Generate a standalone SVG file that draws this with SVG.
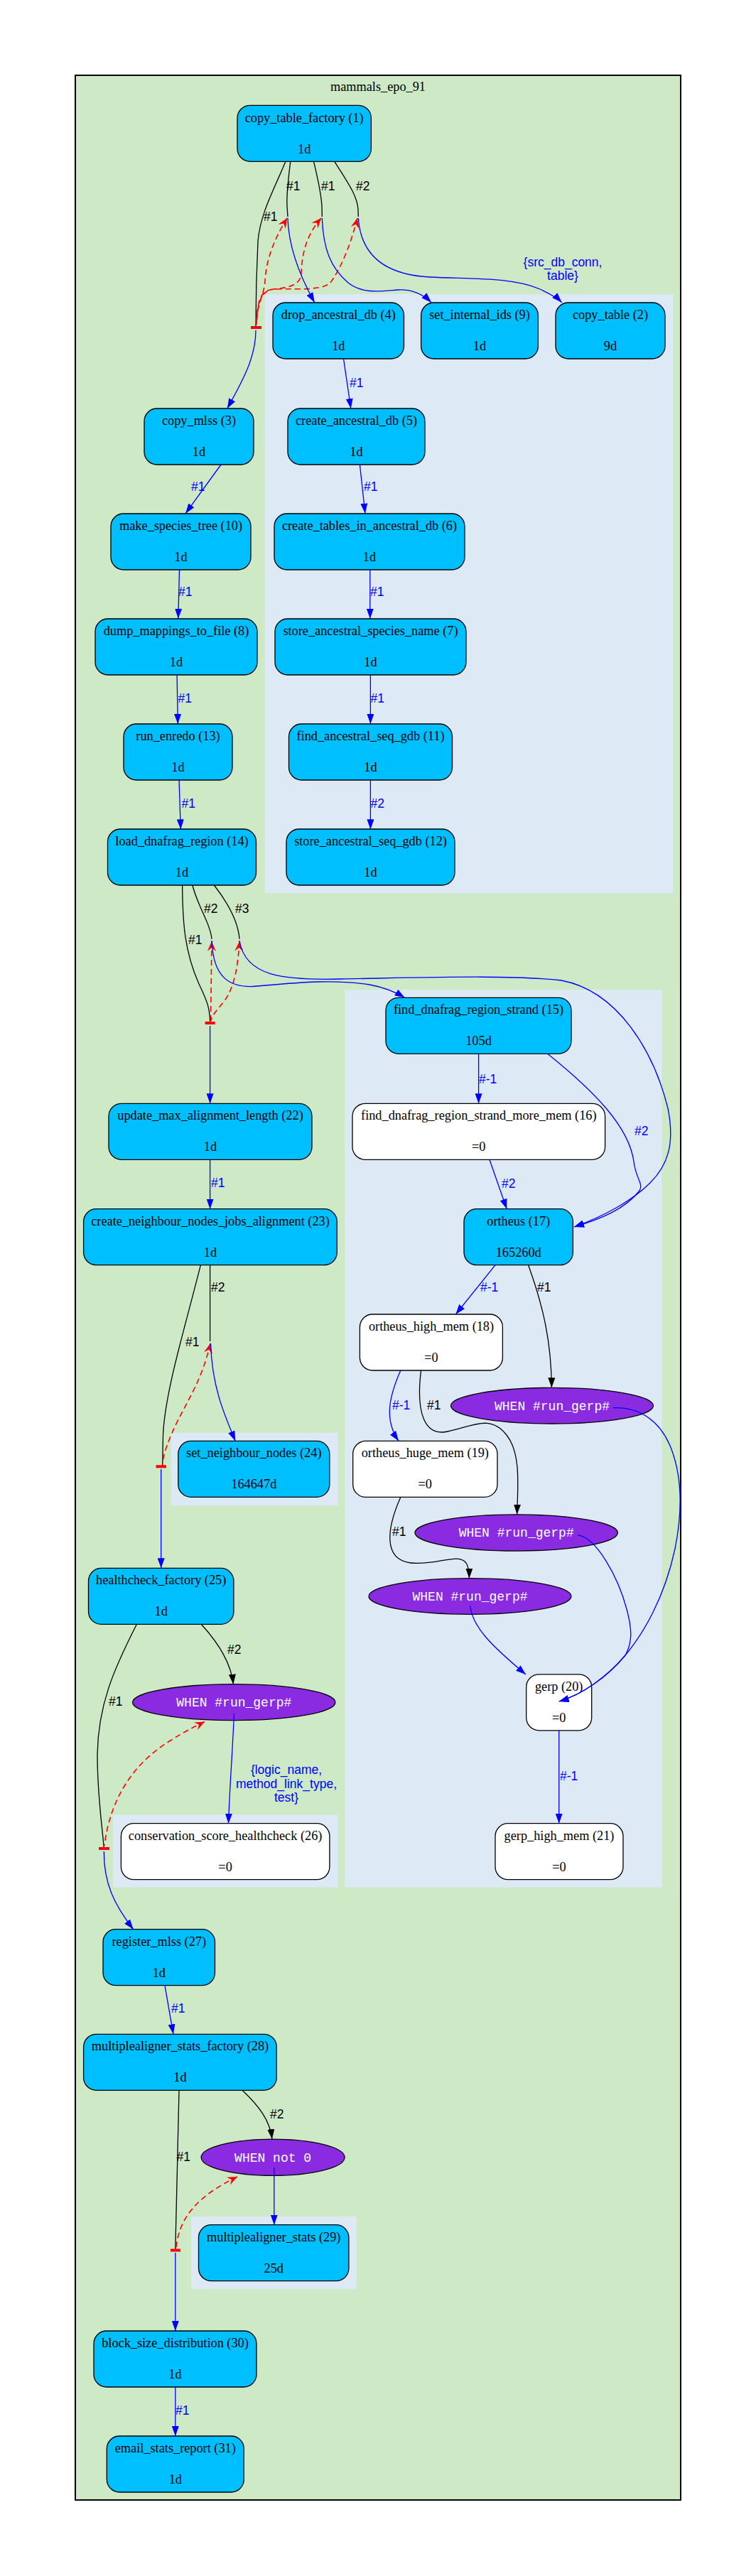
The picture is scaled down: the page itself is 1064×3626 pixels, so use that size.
<svg xmlns="http://www.w3.org/2000/svg" width="1064" height="3626" viewBox="0 0 1064 3626">
<defs>
<style>
.outer{fill:#cde9c6;stroke:#000;stroke-width:2}
.cl{fill:#dde9f5;stroke:none}
.job rect{fill:#00bfff;stroke:#000;stroke-width:1.3}
.job.empty rect{fill:#fff}
.nt{font-family:"Liberation Serif","Times New Roman",serif;font-size:18.3px;text-anchor:middle;fill:#000}
.cond ellipse{fill:#8a2be2;stroke:#000;stroke-width:1.3}
.ct{font-family:"Liberation Mono","Courier New",monospace;font-size:18px;text-anchor:middle;fill:#fff}
.e{fill:none;stroke-width:1.3}
.eb{stroke:#0000ff;marker-end:url(#ab)}
.ek{stroke:#000}
.eka{stroke:#000;marker-end:url(#ak)}
.er{stroke:#ff0000;stroke-width:1.6;stroke-dasharray:8,5;marker-start:url(#av)}
.tee{fill:#ff0000}
.lb{font-family:"Liberation Sans",Arial,sans-serif;font-size:17.5px;fill:#0000ff}
.lk{font-family:"Liberation Sans",Arial,sans-serif;font-size:17.5px;fill:#000}
.mid{text-anchor:middle}
</style>
<marker id="ab" viewBox="0 0 14 10" refX="14" refY="5" markerWidth="14" markerHeight="10" markerUnits="userSpaceOnUse" orient="auto"><path d="M0,0 L14,5 L0,10 z" fill="#0000ff"/></marker>
<marker id="ak" viewBox="0 0 14 10" refX="14" refY="5" markerWidth="14" markerHeight="10" markerUnits="userSpaceOnUse" orient="auto"><path d="M0,0 L14,5 L0,10 z" fill="#000"/></marker>
<marker id="av" viewBox="0 0 14 12" refX="14" refY="6" markerWidth="14" markerHeight="12" markerUnits="userSpaceOnUse" orient="auto-start-reverse"><path d="M0,0 L14,6 L0,12 L5,6 z" fill="#ff0000"/></marker>
</defs>

<g id="clusters">
<rect class="outer" x="106" y="106" width="852" height="3413"/>
<text class="nt" x="532" y="127.5">mammals_epo_91</text>
<rect class="cl" x="372.6" y="414" width="575" height="843.3"/>
<rect class="cl" x="485.2" y="1393.3" width="446.3" height="1263.4"/>
<rect class="cl" x="240.5" y="2016.7" width="235" height="102.6"/>
<rect class="cl" x="158.9" y="2554.3" width="316.5" height="102.4"/>
<rect class="cl" x="269.2" y="3120" width="232.6" height="102.3"/>
</g>

<g id="n1" class="job"><rect x="334" y="148.3" width="188.4" height="79" rx="18"/><text class="nt" x="428.2" y="171.5">copy_table_factory (1)</text><text class="nt" x="428.2" y="215.5">1d</text></g>
<g id="n4" class="job"><rect x="384" y="426" width="184.5" height="79" rx="18"/><text class="nt" x="476.3" y="449">drop_ancestral_db (4)</text><text class="nt" x="476.3" y="493">1d</text></g>
<g id="n9" class="job"><rect x="592.6" y="426" width="164.8" height="79" rx="18"/><text class="nt" x="675" y="449">set_internal_ids (9)</text><text class="nt" x="675" y="493">1d</text></g>
<g id="n2" class="job"><rect x="782" y="426" width="154" height="79" rx="18"/><text class="nt" x="859" y="449">copy_table (2)</text><text class="nt" x="859" y="493">9d</text></g>
<g id="n3" class="job"><rect x="203" y="575" width="154" height="79" rx="18"/><text class="nt" x="280" y="598">copy_mlss (3)</text><text class="nt" x="280" y="642">1d</text></g>
<g id="n5" class="job"><rect x="405" y="575" width="193" height="79" rx="18"/><text class="nt" x="501.5" y="598">create_ancestral_db (5)</text><text class="nt" x="501.5" y="642">1d</text></g>
<g id="n10" class="job"><rect x="156" y="723" width="197" height="79" rx="18"/><text class="nt" x="254.5" y="746">make_species_tree (10)</text><text class="nt" x="254.5" y="790">1d</text></g>
<g id="n6" class="job"><rect x="386" y="723" width="268" height="79" rx="18"/><text class="nt" x="520" y="746">create_tables_in_ancestral_db (6)</text><text class="nt" x="520" y="790">1d</text></g>
<g id="n8" class="job"><rect x="134" y="871" width="228" height="79" rx="18"/><text class="nt" x="248" y="894">dump_mappings_to_file (8)</text><text class="nt" x="248" y="938">1d</text></g>
<g id="n7" class="job"><rect x="387" y="871" width="269" height="79" rx="18"/><text class="nt" x="521.5" y="894">store_ancestral_species_name (7)</text><text class="nt" x="521.5" y="938">1d</text></g>
<g id="n13" class="job"><rect x="174" y="1019" width="153" height="79" rx="18"/><text class="nt" x="250.5" y="1042">run_enredo (13)</text><text class="nt" x="250.5" y="1086">1d</text></g>
<g id="n11" class="job"><rect x="406.5" y="1019" width="230" height="79" rx="18"/><text class="nt" x="521.5" y="1042">find_ancestral_seq_gdb (11)</text><text class="nt" x="521.5" y="1086">1d</text></g>
<g id="n14" class="job"><rect x="151.5" y="1167" width="209" height="79" rx="18"/><text class="nt" x="256" y="1190">load_dnafrag_region (14)</text><text class="nt" x="256" y="1234">1d</text></g>
<g id="n12" class="job"><rect x="403" y="1167" width="237" height="79" rx="18"/><text class="nt" x="521.5" y="1190">store_ancestral_seq_gdb (12)</text><text class="nt" x="521.5" y="1234">1d</text></g>
<g id="n15" class="job"><rect x="543" y="1404.3" width="261" height="79" rx="18"/><text class="nt" x="673.5" y="1427.3">find_dnafrag_region_strand (15)</text><text class="nt" x="673.5" y="1471.3">105d</text></g>
<g id="n22" class="job"><rect x="153" y="1553.3" width="286" height="79" rx="18"/><text class="nt" x="296" y="1576.3">update_max_alignment_length (22)</text><text class="nt" x="296" y="1620.3">1d</text></g>
<g id="n16" class="job empty"><rect x="496" y="1553.3" width="355.6" height="79" rx="18"/><text class="nt" x="673.8" y="1576.3">find_dnafrag_region_strand_more_mem (16)</text><text class="nt" x="673.8" y="1620.3">=0</text></g>
<g id="n23" class="job"><rect x="117.6" y="1701.7" width="356.7" height="79" rx="18"/><text class="nt" x="296" y="1724.7">create_neighbour_nodes_jobs_alignment (23)</text><text class="nt" x="296" y="1768.7">1d</text></g>
<g id="n17" class="job"><rect x="653" y="1701.7" width="153.4" height="79" rx="18"/><text class="nt" x="729.7" y="1724.7">ortheus (17)</text><text class="nt" x="729.7" y="1768.7">165260d</text></g>
<g id="n18" class="job empty"><rect x="506.4" y="1850" width="201" height="79" rx="18"/><text class="nt" x="607" y="1873">ortheus_high_mem (18)</text><text class="nt" x="607" y="1917">=0</text></g>
<g id="w1" class="cond"><ellipse cx="777" cy="1978.7" rx="142.5" ry="25.3"/><text class="ct" x="777" y="1984.5">WHEN #run_gerp#</text></g>
<g id="n19" class="job empty"><rect x="496.7" y="2028.4" width="203.3" height="79" rx="18"/><text class="nt" x="598.3" y="2051.4">ortheus_huge_mem (19)</text><text class="nt" x="598.3" y="2095.4">=0</text></g>
<g id="n24" class="job"><rect x="250.8" y="2028.4" width="213" height="79" rx="18"/><text class="nt" x="357.3" y="2051.4">set_neighbour_nodes (24)</text><text class="nt" x="357.3" y="2095.4">164647d</text></g>
<g id="w2" class="cond"><ellipse cx="726.7" cy="2157.5" rx="142.7" ry="25.6"/><text class="ct" x="726.7" y="2163.3">WHEN #run_gerp#</text></g>
<g id="n25" class="job"><rect x="124.5" y="2207.4" width="204.4" height="79" rx="18"/><text class="nt" x="226.7" y="2230.4">healthcheck_factory (25)</text><text class="nt" x="226.7" y="2274.4">1d</text></g>
<g id="w3" class="cond"><ellipse cx="661.5" cy="2247" rx="142.5" ry="25.3"/><text class="ct" x="661.5" y="2252.8">WHEN #run_gerp#</text></g>
<g id="n20" class="job empty"><rect x="740.7" y="2356.8" width="92" height="79" rx="18"/><text class="nt" x="786.7" y="2379.8">gerp (20)</text><text class="nt" x="786.7" y="2423.8">=0</text></g>
<g id="w4" class="cond"><ellipse cx="329.3" cy="2396.2" rx="142.7" ry="25.5"/><text class="ct" x="329.3" y="2402">WHEN #run_gerp#</text></g>
<g id="n26" class="job empty"><rect x="170.4" y="2566.7" width="293.5" height="79" rx="18"/><text class="nt" x="317.1" y="2589.7">conservation_score_healthcheck (26)</text><text class="nt" x="317.1" y="2633.7">=0</text></g>
<g id="n21" class="job empty"><rect x="697" y="2566.7" width="180" height="79" rx="18"/><text class="nt" x="787" y="2589.7">gerp_high_mem (21)</text><text class="nt" x="787" y="2633.7">=0</text></g>
<g id="n27" class="job"><rect x="145" y="2715.7" width="157.5" height="79" rx="18"/><text class="nt" x="223.8" y="2738.7">register_mlss (27)</text><text class="nt" x="223.8" y="2782.7">1d</text></g>
<g id="n28" class="job"><rect x="117.6" y="2863.3" width="271.7" height="79" rx="18"/><text class="nt" x="253.5" y="2886.3">multiplealigner_stats_factory (28)</text><text class="nt" x="253.5" y="2930.3">1d</text></g>
<g id="w5" class="cond"><ellipse cx="384.1" cy="3036.7" rx="101" ry="25.6"/><text class="ct" x="384.1" y="3042.5">WHEN not 0</text></g>
<g id="n29" class="job"><rect x="279.5" y="3131.7" width="211.4" height="79" rx="18"/><text class="nt" x="385.2" y="3154.7">multiplealigner_stats (29)</text><text class="nt" x="385.2" y="3198.7">25d</text></g>
<g id="n30" class="job"><rect x="132" y="3281" width="229" height="79" rx="18"/><text class="nt" x="246.5" y="3304">block_size_distribution (30)</text><text class="nt" x="246.5" y="3348">1d</text></g>
<g id="n31" class="job"><rect x="150.3" y="3429" width="193" height="79" rx="18"/><text class="nt" x="246.8" y="3452">email_stats_report (31)</text><text class="nt" x="246.8" y="3496">1d</text></g>

<g id="connectors">
<!-- fan from copy_table_factory -->
<path class="e ek" d="M401.9,227.3 C388,262 366,300 363,340 C361,380 360,430 360,461"/>
<path class="e ek" d="M408.8,227.3 C406,250 403,272 404,290 L405,305"/>
<path class="e ek" d="M441.5,227.3 C447,250 452,272 453,290 L453.3,305"/>
<path class="e ek" d="M470.8,227.3 C488,255 503,275 504,295 L504.3,305"/>
<path class="e er" d="M404,307 C390,330 375,360 373,395 C372,415 362,425 361,457"/>
<path class="e er" d="M452,307 C432,330 425,355 424,385 C423,402 405,405 385,407 C368,409 362,425 361,457"/>
<path class="e er" d="M503,307 C492,350 478,380 465,398 C450,412 400,404 380,408 C366,411 362,425 361,457"/>
<rect class="tee" x="353" y="459" width="15" height="4"/>
<path class="e eb" d="M360,465 C360,500 345,530 319.8,575"/>
<path class="e eb" d="M405,307 C406,345 420,385 442.7,425.7"/>
<path class="e eb" d="M453.3,307 C455,350 465,377 490,398 C510,414 535,410 560,408 C580,407 595,414 607,425.7"/>
<path class="e eb" d="M504.3,307 C508,362 545,387 605,390 C665,393 720,390 760,407 C775,414 784,419 790.7,425.7"/>
<!-- chains -->
<path class="e eb" d="M483.5,505 L493.8,575"/>
<path class="e eb" d="M311,654 L261.2,722.7"/>
<path class="e eb" d="M506.4,654 L513.9,722.7"/>
<path class="e eb" d="M252.5,802 L250.8,870.7"/>
<path class="e eb" d="M520.8,802 L520.8,870.7"/>
<path class="e eb" d="M249.1,950 L250.3,1019"/>
<path class="e eb" d="M521.4,950 L521.4,1019"/>
<path class="e eb" d="M252,1098 L254.3,1167.3"/>
<path class="e eb" d="M521.4,1098 L521.4,1167.3"/>
<!-- fan from load_dnafrag_region -->
<path class="e ek" d="M256.6,1246 C257,1300 260,1340 280,1385 C292,1410 295.6,1420 295.6,1440"/>
<path class="e ek" d="M270.9,1246 C278,1275 296,1300 298,1321.7"/>
<path class="e ek" d="M301.4,1246 C320,1270 335,1295 337,1321.7"/>
<path class="e er" d="M298,1325 L296.5,1437"/>
<path class="e er" d="M337,1325 C335,1360 330,1390 315,1410 C305,1422 298,1430 297,1437"/>
<rect class="tee" x="288.6" y="1438" width="14" height="4"/>
<path class="e eb" d="M295.6,1444 L295.6,1553.3"/>
<path class="e eb" d="M298,1324 C300,1375 322,1392 362,1388 C420,1383 470,1378 520,1386 C542,1390 556,1396 569.6,1404.3"/>
<path class="e eb" d="M337,1324 C345,1375 400,1380 480,1378 C600,1376 720,1372 790,1380 C870,1395 920,1480 940,1560 C950,1610 940,1640 915,1665 C890,1690 850,1712 808,1727"/>
<path class="e eb" d="M770.6,1483.3 C835,1535 885,1585 892,1635 C895,1660 906,1666 900,1676 C880,1702 845,1716 808,1727"/>
<path class="e eb" d="M673.6,1483.3 L673.6,1553.3"/>
<path class="e eb" d="M295.6,1632.7 L295.6,1701.7"/>
<path class="e eb" d="M689.1,1632.7 L713.2,1701.7"/>
<path class="e eb" d="M697.1,1780.7 L641.4,1850"/>
<path class="e eka" d="M743.6,1780.7 C765,1840 776,1890 776.4,1953.3"/>
<!-- fan from create_neighbour_nodes_jobs_alignment -->
<path class="e ek" d="M295.6,1780.7 L295.6,1888"/>
<path class="e ek" d="M282.4,1780.7 C260,1870 232,1960 229.5,2020 L228.7,2064"/>
<path class="e er" d="M296,1891 C285,1940 265,1970 250,2000 C238,2025 230,2045 228.7,2061"/>
<rect class="tee" x="219.5" y="2062.3" width="14.5" height="4"/>
<path class="e eb" d="M296.5,1891 C298,1950 315,1990 331.2,2028.3"/>
<path class="e eb" d="M226.7,2068 L226.7,2207.3"/>
<path class="e eb" d="M563.9,1928.7 C548,1965 540,1998 561,2028.3"/>
<path class="e eka" d="M592.6,1928.7 C585,1990 598,2022 630,2015 C665,2008 690,1990 713,2020 C733,2045 729,2090 727.6,2131.7"/>
<path class="e eb" d="M862.5,1981.7 C900,1980 930,2000 945,2040 C960,2080 960,2130 950,2180 C935,2250 905,2300 880,2330 C855,2360 820,2385 786.7,2395"/>
<path class="e eb" d="M813.3,2160.7 C840,2165 870,2220 882,2265 C890,2295 890,2312 880,2330 C855,2360 820,2385 786.7,2395"/>
<path class="e eka" d="M563.9,2107.3 C545,2150 538,2195 578,2200 C615,2204 645,2185 656,2200 C660,2206 660.4,2213 660.4,2221.7"/>
<path class="e eb" d="M661.5,2260 C665,2290 690,2315 740,2357"/>
<path class="e eb" d="M786.7,2436 L786.7,2566.7"/>
<!-- fan from healthcheck_factory -->
<path class="e eka" d="M283.6,2286.7 C305,2310 325,2340 328.4,2370.7"/>
<path class="e ek" d="M192.2,2286.7 C160,2350 138,2400 137,2470 C137,2530 144,2570 146.3,2602"/>
<path class="e er" d="M288,2423.5 C275,2430 260,2437 240,2450 C190,2480 155,2530 147,2598"/>
<rect class="tee" x="139" y="2600" width="15" height="4"/>
<path class="e eb" d="M329.5,2411.7 C327,2470 323,2520 321.5,2566.7"/>
<path class="e eb" d="M146.3,2606 C146,2650 160,2680 187.6,2715.7"/>
<path class="e eb" d="M231.9,2794.3 L243.9,2863.3"/>
<!-- fan from multiplealigner_stats_factory -->
<path class="e eka" d="M341,2942.3 C365,2965 380,2985 382.9,3011"/>
<path class="e ek" d="M252,2942.3 L246.8,3167"/>
<path class="e er" d="M334,3064 C280,3090 252,3120 248,3164"/>
<rect class="tee" x="240" y="3165.5" width="14" height="4"/>
<path class="e eb" d="M385.8,3051 L385.8,3131.7"/>
<path class="e eb" d="M246.8,3171 L246.8,3281"/>
<path class="e eb" d="M246.8,3360 L246.8,3429"/>
</g>

<g id="edge-labels">
<text class="lk" x="371" y="311">#1</text>
<text class="lk" x="403" y="268">#1</text>
<text class="lk" x="452" y="268">#1</text>
<text class="lk" x="501" y="268">#2</text>
<text class="lb mid" x="792" y="375">{src_db_conn,</text>
<text class="lb mid" x="792" y="394">table}</text>
<text class="lb" x="492" y="545">#1</text>
<text class="lb" x="269" y="691">#1</text>
<text class="lb" x="512" y="691">#1</text>
<text class="lb" x="251" y="839">#1</text>
<text class="lb" x="521" y="839">#1</text>
<text class="lb" x="250.5" y="989">#1</text>
<text class="lb" x="521.5" y="989">#1</text>
<text class="lb" x="255.5" y="1137">#1</text>
<text class="lb" x="521.5" y="1137">#2</text>
<text class="lk" x="265" y="1329">#1</text>
<text class="lk" x="287" y="1285">#2</text>
<text class="lk" x="331" y="1285">#3</text>
<text class="lb" x="674" y="1525">#-1</text>
<text class="lb" x="893" y="1598">#2</text>
<text class="lb" x="297" y="1671">#1</text>
<text class="lb" x="706" y="1672">#2</text>
<text class="lb" x="676" y="1818">#-1</text>
<text class="lk" x="756" y="1818">#1</text>
<text class="lk" x="297" y="1818">#2</text>
<text class="lk" x="261" y="1895">#1</text>
<text class="lb" x="552" y="1984">#-1</text>
<text class="lk" x="601" y="1984">#1</text>
<text class="lk" x="552" y="2162">#1</text>
<text class="lk" x="320" y="2328">#2</text>
<text class="lk" x="153" y="2401">#1</text>
<text class="lb mid" x="403" y="2497">{logic_name,</text>
<text class="lb mid" x="403" y="2516.5">method_link_type,</text>
<text class="lb mid" x="403" y="2536">test}</text>
<text class="lb" x="788" y="2506">#-1</text>
<text class="lb" x="241" y="2833">#1</text>
<text class="lk" x="380" y="2982">#2</text>
<text class="lk" x="248.5" y="3042">#1</text>
<text class="lb" x="247" y="3399">#1</text>
</g>
</svg>
